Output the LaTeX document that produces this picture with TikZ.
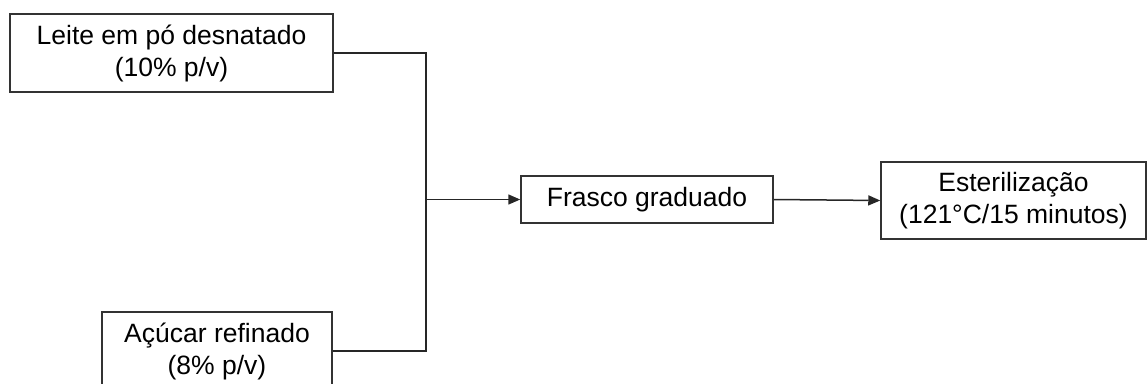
\documentclass[tikz,border=0pt]{standalone}
\usepackage{fontspec}
\setmainfont{Liberation Sans}
\usetikzlibrary{arrows.meta}
\begin{document}
\begin{tikzpicture}[x=1pt,y=-1pt,
  stage/.style={draw=black!80, line width=1.5pt, fill=white, inner sep=0pt,
    align=center, font=\fontsize{26.5}{32}\selectfont},
  flow/.style={line width=1.5pt, draw=black!85},
  arrowflow/.style={flow, -{Triangle[length=12pt,width=10pt]}}]
  \useasboundingbox (0,0) rectangle (1147,383);
  \clip (0,0) rectangle (1147,383);
  % feed materials
  \node[stage, minimum width=323pt, minimum height=78pt] (leite) at (171.5,53)
    {Leite em pó desnatado\\(10\% p/v)};
  \node[stage, minimum width=230pt, minimum height=78pt] (acucar) at (217,351)
    {Açúcar refinado\\(8\% p/v)};
  % process steps
  \node[stage, minimum width=252pt, minimum height=47pt] (frasco) at (647,199.5)
    {Frasco graduado};
  \node[stage, minimum width=265pt, minimum height=77pt] (ester) at (1013.5,200.5)
    {Esterilização\\(121°C/15 minutos)};
  % junction of the two feeds
  \coordinate (junta) at (426,199.5);
  \draw[flow] (leite.east) -| (junta);
  \draw[flow] (acucar.east) -| (junta);
  \draw[arrowflow] (junta) -- (frasco.west);
  \draw[arrowflow] (frasco.east) -- (ester.west);
\end{tikzpicture}
\end{document}
